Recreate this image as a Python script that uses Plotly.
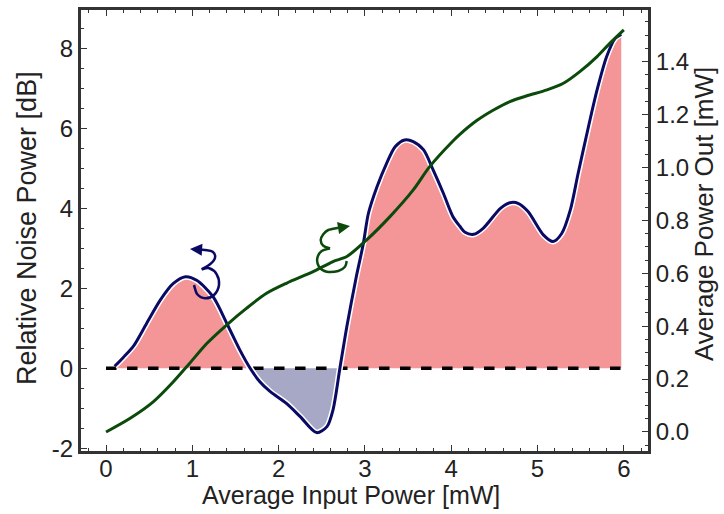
import numpy as np
import plotly.graph_objects as go

# ---------------- data ----------------
input_power = [0.10, 0.20, 0.32, 0.47, 0.63, 0.78, 0.92, 1.05, 1.24, 1.40, 1.55, 1.67,
               1.78, 1.90, 2.09, 2.25, 2.44, 2.56, 2.63, 2.71, 2.79, 2.90, 2.98, 3.04,
               3.14, 3.25, 3.35, 3.46, 3.56, 3.68, 3.79, 3.91, 4.02, 4.10, 4.16, 4.26,
               4.37, 4.57, 4.68, 4.78, 4.89, 5.07, 5.18, 5.28, 5.38, 5.47, 5.59, 5.69,
               5.80, 5.90, 5.97]
noise_db = [0.05, 0.27, 0.56, 1.12, 1.71, 2.12, 2.29, 2.20, 1.79, 1.12, 0.46, 0.00,
            -0.33, -0.58, -0.88, -1.21, -1.61, -1.46, -1.04, 0.00, 1.04, 2.29, 3.10, 3.87,
            4.54, 5.12, 5.54, 5.71, 5.67, 5.46, 4.96, 4.37, 3.79, 3.55, 3.40, 3.35,
            3.50, 4.00, 4.14, 4.12, 3.92, 3.33, 3.17, 3.37, 3.96, 4.87, 6.04, 6.96,
            7.79, 8.25, 8.35]

input_power_out = [0.00, 0.28, 0.55, 0.78, 0.97, 1.17, 1.40, 1.63, 1.86, 2.09, 2.40, 2.63,
                   2.79, 3.02, 3.29, 3.56, 3.75, 4.02, 4.10, 4.30, 4.49, 4.68, 4.87, 5.11,
                   5.30, 5.49, 5.69, 5.84, 6.00]
power_out = [0.000, 0.052, 0.115, 0.190, 0.260, 0.335, 0.405, 0.468, 0.524, 0.562, 0.606, 0.644,
             0.663, 0.726, 0.814, 0.915, 1.003, 1.100, 1.125, 1.178, 1.217, 1.249, 1.270, 1.293,
             1.318, 1.362, 1.419, 1.470, 1.520]

x_ticks = [0, 1, 2, 3, 4, 5, 6]
y_ticks = [-2, 0, 2, 4, 6, 8]
y2_ticks = [0.0, 0.2, 0.4, 0.6, 0.8, 1.0, 1.2, 1.4]

x_title = "Average Input Power [mW]"
y_title = "Relative Noise Power [dB]"
y2_title = "Average Power Out [mW]"

# ---------------- styles ----------------
NAVY = "#0a0a64"
GREEN = "#0b4a0b"
RED_FILL = "#f49598"
BLUE_FILL = "#a6a8c6"
AXIS = "#333333"
TEXT = "#222222"
FONT = "Liberation Sans, Arial, sans-serif"

W, H = 724, 514
L, R, T, B = 81, 648, 10, 451  # plot area in pixels

fig = go.Figure()

# split noise curve into sign segments for the fills
xs = np.array(input_power, dtype=float)
ys = np.array(noise_db, dtype=float)
segments = []
cur_x, cur_y = [xs[0]], [ys[0]]
cur_sign = 1 if ys[0] >= 0 else -1
for i in range(1, len(xs)):
    s = 1 if ys[i] > 0 else (-1 if ys[i] < 0 else 0)
    if s == 0:
        cur_x.append(xs[i]); cur_y.append(0.0)
        segments.append((cur_sign, cur_x, cur_y))
        cur_x, cur_y = [xs[i]], [0.0]
        nxt = ys[i + 1] if i + 1 < len(ys) else 0
        cur_sign = 1 if nxt >= 0 else -1
    else:
        cur_x.append(xs[i]); cur_y.append(ys[i])
segments.append((cur_sign, cur_x, cur_y))

for sign, sx, sy in segments:
    fig.add_trace(go.Scatter(
        x=sx, y=sy, mode="lines", line=dict(width=0, shape="spline", smoothing=0.8),
        fill="tozeroy", fillcolor=RED_FILL if sign > 0 else BLUE_FILL,
        hoverinfo="skip", showlegend=False))

# dashed zero reference line
fig.add_trace(go.Scatter(
    x=[min(input_power_out), max(input_power_out)], y=[0, 0], mode="lines",
    line=dict(color="black", width=3.5, dash="dash"), showlegend=False, hoverinfo="skip"))

# noise curve with white halo
fig.add_trace(go.Scatter(x=input_power, y=noise_db, mode="lines",
                         line=dict(color="white", width=6, shape="spline", smoothing=0.8),
                         showlegend=False, hoverinfo="skip"))
fig.add_trace(go.Scatter(x=input_power, y=noise_db, mode="lines",
                         line=dict(color=NAVY, width=3, shape="spline", smoothing=0.8),
                         showlegend=False))

# power out curve on right axis
fig.add_trace(go.Scatter(x=input_power_out, y=power_out, mode="lines", yaxis="y2",
                         line=dict(color=GREEN, width=3, shape="spline", smoothing=0.8),
                         showlegend=False))


# ---------------- curly arrows (decoration) ----------------
def to_paper(p):
    return ((p[0] - L) / (R - L), (B - p[1]) / (B - T))


def smooth_path(pts):
    pts = [to_paper(p) for p in pts]
    d = "M {:.5f},{:.5f}".format(*pts[0])
    n = len(pts)
    for i in range(n - 1):
        p0 = pts[i - 1] if i > 0 else pts[i]
        p1 = pts[i]
        p2 = pts[i + 1]
        p3 = pts[i + 2] if i + 2 < n else pts[i + 1]
        c1 = (p1[0] + (p2[0] - p0[0]) / 6, p1[1] + (p2[1] - p0[1]) / 6)
        c2 = (p2[0] - (p3[0] - p1[0]) / 6, p2[1] - (p3[1] - p1[1]) / 6)
        d += " C {:.5f},{:.5f} {:.5f},{:.5f} {:.5f},{:.5f}".format(*c1, *c2, *p2)
    return d


blue_curl = [
    [(194, 285), (197.3, 294.3), (205, 298.3), (214, 295), (219, 285), (216.7, 274.3),
     (209.3, 268.3), (201.7, 269.3)],
    [(201.7, 269.3), (210, 264.3), (215, 257.7), (212.7, 251.7), (205, 250), (196, 249.3)],
]
green_curl = [
    [(338, 227.8), (328.3, 230), (323.3, 234.3), (320.7, 240), (323.3, 245.7), (330, 248.3)],
    [(330, 248.3), (321.7, 251), (317.3, 258.3), (319, 266.7), (326.7, 271.7), (338.3, 271),
     (345, 266.7), (346.7, 261)],
]

shapes = []
for pts in blue_curl:
    shapes.append(dict(type="path", xref="paper", yref="paper", path=smooth_path(pts),
                       line=dict(color=NAVY, width=2.5), layer="above"))
for pts in green_curl:
    shapes.append(dict(type="path", xref="paper", yref="paper", path=smooth_path(pts),
                       line=dict(color=GREEN, width=2.5), layer="above"))

annotations = []
hx, hy = to_paper((190, 249))
annotations.append(dict(x=hx, y=hy, xref="paper", yref="paper", ax=8, ay=0.5, text="",
                        showarrow=True, arrowhead=2, arrowsize=1.1, arrowwidth=2.2,
                        arrowcolor=NAVY))
hx, hy = to_paper((350, 226))
annotations.append(dict(x=hx, y=hy, xref="paper", yref="paper", ax=-13, ay=2.2, text="",
                        showarrow=True, arrowhead=2, arrowsize=1.1, arrowwidth=2.2,
                        arrowcolor=GREEN))

# axis titles as positioned text
px, py = to_paper((351, 495))
annotations.append(dict(x=px, y=py, xref="paper", yref="paper", text=x_title, showarrow=False,
                        xanchor="center", yanchor="middle",
                        font=dict(family=FONT, size=25, color=TEXT)))
px, py = to_paper((27, 228))
annotations.append(dict(x=px, y=py, xref="paper", yref="paper", text=y_title, showarrow=False,
                        textangle=-90, xanchor="center", yanchor="middle",
                        font=dict(family=FONT, size=27, color=TEXT)))
px, py = to_paper((704, 214))
annotations.append(dict(x=px, y=py, xref="paper", yref="paper", text=y2_title, showarrow=False,
                        textangle=-90, xanchor="center", yanchor="middle",
                        font=dict(family=FONT, size=26, color=TEXT)))

tickfont = dict(family=FONT, size=24, color=TEXT)

fig.update_layout(
    width=W, height=H,
    margin=dict(l=L, r=W - R, t=T, b=H - B),
    paper_bgcolor="white", plot_bgcolor="white",
    font=dict(family=FONT),
    showlegend=False,
    shapes=shapes,
    annotations=annotations,
    xaxis=dict(
        range=[-0.29, 6.28], tickvals=x_ticks, ticktext=[str(v) for v in x_ticks],
        ticks="inside", ticklen=6, tickwidth=1.3, tickcolor=AXIS,
        minor=dict(dtick=0.2, ticks="inside", ticklen=3, tickwidth=1, tickcolor=AXIS),
        showline=True, linewidth=3, linecolor=AXIS, mirror="ticks",
        showgrid=False, zeroline=False, tickfont=tickfont, automargin=False,
        ticklabelstandoff=-6,
    ),
    yaxis=dict(
        range=[-2.07, 8.96], tickvals=y_ticks, ticktext=[str(v) for v in y_ticks],
        ticks="inside", ticklen=6, tickwidth=1.3, tickcolor=AXIS,
        minor=dict(dtick=0.5, ticks="inside", ticklen=3, tickwidth=1, tickcolor=AXIS),
        showline=True, linewidth=3, linecolor=AXIS,
        showgrid=False, zeroline=False, tickfont=tickfont, automargin=False,
    ),
    yaxis2=dict(
        range=[-0.072, 1.595], overlaying="y", side="right",
        tickvals=y2_ticks, ticktext=["{:.1f}".format(v) for v in y2_ticks],
        ticks="inside", ticklen=6, tickwidth=1.3, tickcolor=AXIS,
        minor=dict(dtick=0.05, ticks="inside", ticklen=3, tickwidth=1, tickcolor=AXIS),
        showline=True, linewidth=3, linecolor=AXIS,
        showgrid=False, zeroline=False, tickfont=tickfont, automargin=False,
    ),
)

fig.write_html("out.html")
